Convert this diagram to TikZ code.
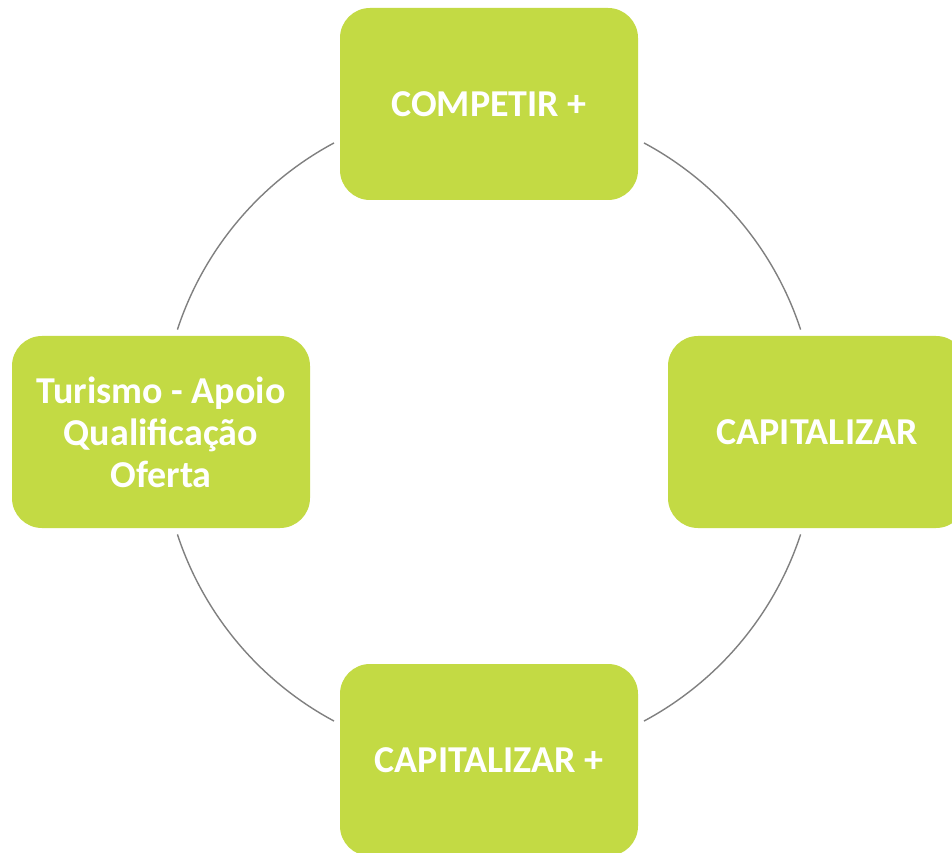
\documentclass[tikz,border=0pt]{standalone}
\usepackage{fontspec}
\setmainfont{Carlito}
\definecolor{leaf}{HTML}{C3DA44}
\definecolor{ring}{HTML}{808080}
\begin{document}
\begin{tikzpicture}[x=1pt,y=1pt,
  stage/.style={fill=leaf, draw=none, rounded corners=30pt,
    minimum width=298pt, minimum height=192pt, inner sep=0pt,
    text=white, align=center,
    font=\fontsize{38}{42}\selectfont\bfseries},
  link/.style={draw=ring, line width=1.4pt}]
  \useasboundingbox (0,0) rectangle (952,852);
  \clip (0,0) rectangle (952,852);
  \fill[white] (0,0) rectangle (952,852);
  % centre of the ring
  \coordinate (hub) at (489,420);
  % arcs of the ring, each stopping short of the neighbouring boxes
  \foreach \s/\e in {18.2/61.8, 118.2/161.8, 198.2/241.8, 298.2/341.8}
    \draw[link] (hub) ++(\s:328) arc[start angle=\s, end angle=\e, radius=328];
  % the four stages
  \node[stage] (top)    at (489,748) {COMPETIR +};
  \node[stage] (right)  at (817,420) {CAPITALIZAR};
  \node[stage] (bottom) at (489,92)  {CAPITALIZAR +};
  \node[stage] (left)   at (161,420) {Turismo - Apoio\\Qualificação\\Oferta};
\end{tikzpicture}
\end{document}
